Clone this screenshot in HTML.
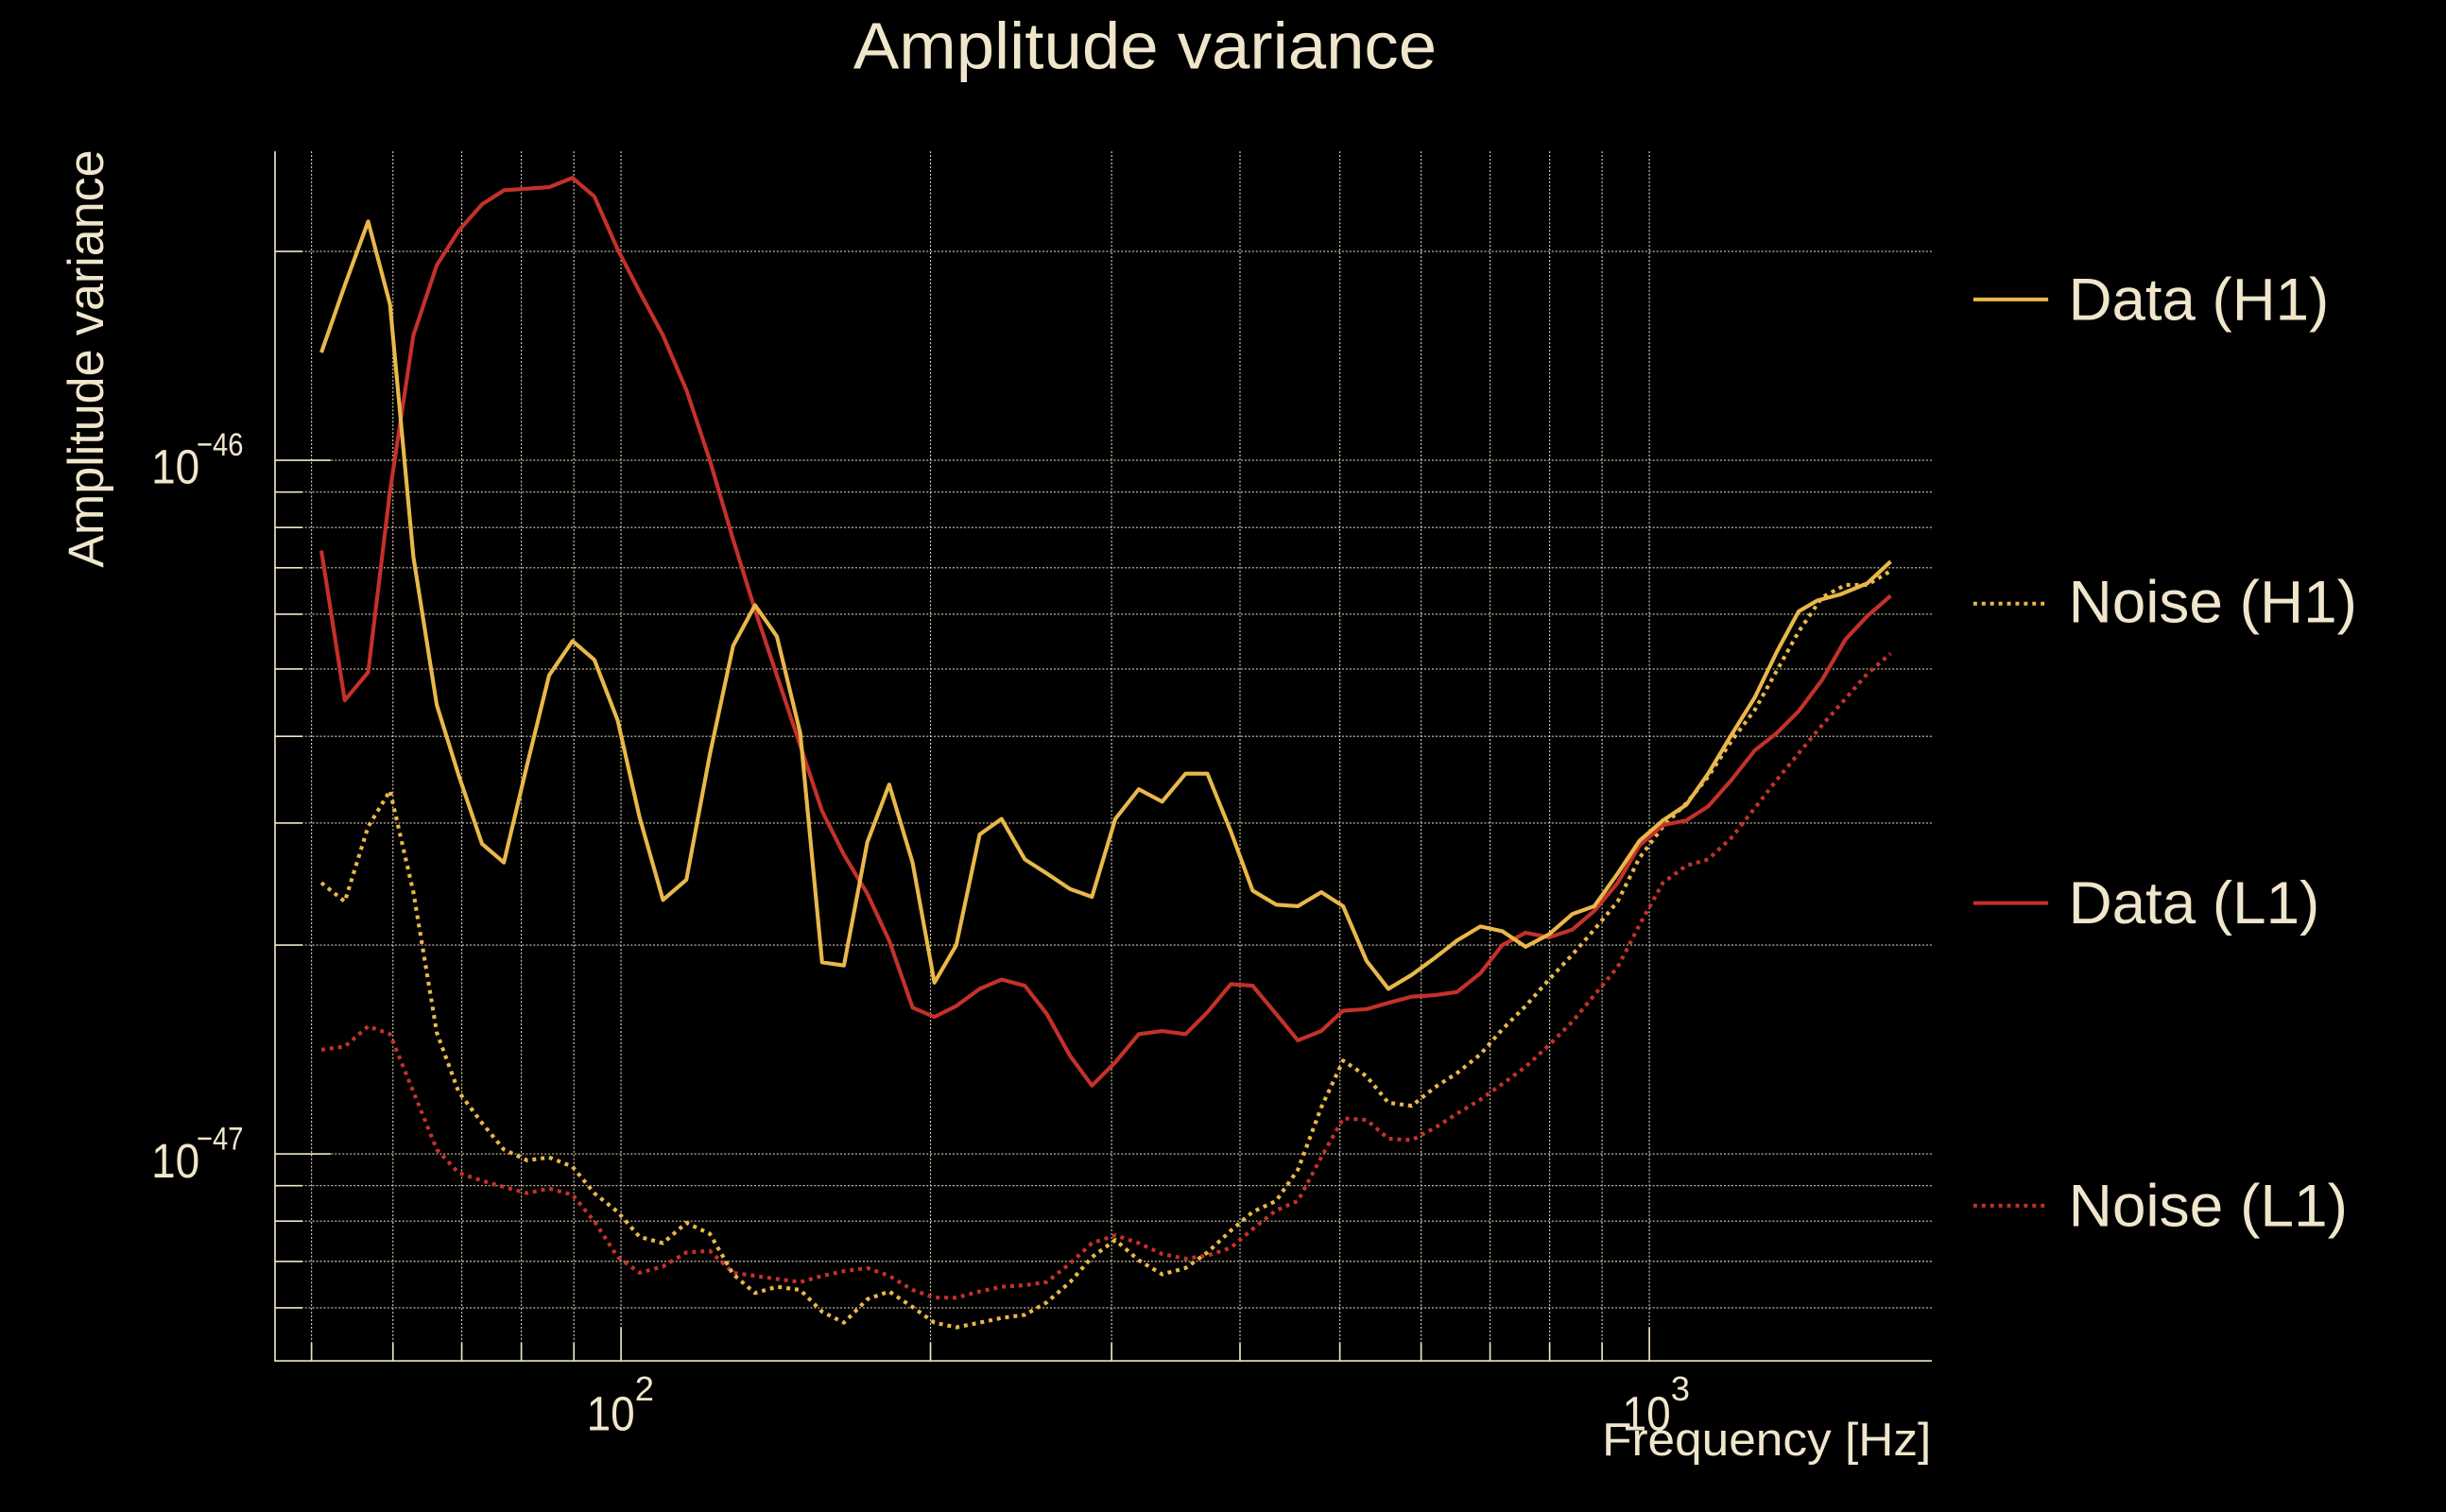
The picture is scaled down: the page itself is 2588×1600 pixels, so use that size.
<!DOCTYPE html>
<html><head><meta charset="utf-8"><style>html,body{margin:0;padding:0;background:#000;width:2588px;height:1600px;overflow:hidden}svg{display:block}</style></head>
<body>
<svg width="2588" height="1600" viewBox="0 0 1568 969.4" xmlns="http://www.w3.org/2000/svg">
<rect x="0" y="0" width="1568" height="969.4" fill="#000"/>
<g stroke="#efe4c8" stroke-width="0.7" stroke-dasharray="1.2,1.2" opacity="0.9">
<line x1="199.7" y1="97" x2="199.7" y2="872.5"/><line x1="251.9" y1="97" x2="251.9" y2="872.5"/><line x1="296" y1="97" x2="296" y2="872.5"/><line x1="334.2" y1="97" x2="334.2" y2="872.5"/><line x1="367.9" y1="97" x2="367.9" y2="872.5"/><line x1="398.1" y1="97" x2="398.1" y2="872.5"/><line x1="596.5" y1="97" x2="596.5" y2="872.5"/><line x1="712.6" y1="97" x2="712.6" y2="872.5"/><line x1="794.9" y1="97" x2="794.9" y2="872.5"/><line x1="858.9" y1="97" x2="858.9" y2="872.5"/><line x1="911" y1="97" x2="911" y2="872.5"/><line x1="955.2" y1="97" x2="955.2" y2="872.5"/><line x1="993.4" y1="97" x2="993.4" y2="872.5"/><line x1="1027" y1="97" x2="1027" y2="872.5"/><line x1="1057.3" y1="97" x2="1057.3" y2="872.5"/>
<line x1="176.3" y1="161.2" x2="1238.4" y2="161.2"/><line x1="176.3" y1="295.1" x2="1238.4" y2="295.1"/><line x1="176.3" y1="315.5" x2="1238.4" y2="315.5"/><line x1="176.3" y1="338.2" x2="1238.4" y2="338.2"/><line x1="176.3" y1="364" x2="1238.4" y2="364"/><line x1="176.3" y1="393.8" x2="1238.4" y2="393.8"/><line x1="176.3" y1="428.9" x2="1238.4" y2="428.9"/><line x1="176.3" y1="472.1" x2="1238.4" y2="472.1"/><line x1="176.3" y1="527.7" x2="1238.4" y2="527.7"/><line x1="176.3" y1="605.9" x2="1238.4" y2="605.9"/><line x1="176.3" y1="739.8" x2="1238.4" y2="739.8"/><line x1="176.3" y1="760.2" x2="1238.4" y2="760.2"/><line x1="176.3" y1="782.9" x2="1238.4" y2="782.9"/><line x1="176.3" y1="808.7" x2="1238.4" y2="808.7"/><line x1="176.3" y1="838.5" x2="1238.4" y2="838.5"/>
</g>
<g stroke="#efe4c8" stroke-width="1" fill="none">
<polyline points="176.3,97 176.3,872.5 1238.4,872.5"/>
<line x1="176.3" y1="295.1" x2="212" y2="295.1"/><line x1="176.3" y1="739.8" x2="212" y2="739.8"/>
<line x1="176.3" y1="161.2" x2="194" y2="161.2"/><line x1="176.3" y1="315.5" x2="194" y2="315.5"/><line x1="176.3" y1="338.2" x2="194" y2="338.2"/><line x1="176.3" y1="364" x2="194" y2="364"/><line x1="176.3" y1="393.8" x2="194" y2="393.8"/><line x1="176.3" y1="428.9" x2="194" y2="428.9"/><line x1="176.3" y1="472.1" x2="194" y2="472.1"/><line x1="176.3" y1="527.7" x2="194" y2="527.7"/><line x1="176.3" y1="605.9" x2="194" y2="605.9"/><line x1="176.3" y1="760.2" x2="194" y2="760.2"/><line x1="176.3" y1="782.9" x2="194" y2="782.9"/><line x1="176.3" y1="808.7" x2="194" y2="808.7"/><line x1="176.3" y1="838.5" x2="194" y2="838.5"/>
<line x1="398.1" y1="872.5" x2="398.1" y2="851"/><line x1="1057.3" y1="872.5" x2="1057.3" y2="851"/>
<line x1="199.7" y1="872.5" x2="199.7" y2="861"/><line x1="251.9" y1="872.5" x2="251.9" y2="861"/><line x1="296" y1="872.5" x2="296" y2="861"/><line x1="334.2" y1="872.5" x2="334.2" y2="861"/><line x1="367.9" y1="872.5" x2="367.9" y2="861"/><line x1="596.5" y1="872.5" x2="596.5" y2="861"/><line x1="712.6" y1="872.5" x2="712.6" y2="861"/><line x1="794.9" y1="872.5" x2="794.9" y2="861"/><line x1="858.9" y1="872.5" x2="858.9" y2="861"/><line x1="911" y1="872.5" x2="911" y2="861"/><line x1="955.2" y1="872.5" x2="955.2" y2="861"/><line x1="993.4" y1="872.5" x2="993.4" y2="861"/><line x1="1027" y1="872.5" x2="1027" y2="861"/>
</g>
<g fill="none" stroke-width="2.5" stroke-linejoin="round">
<polyline stroke="#c4312a" stroke-dasharray="2.4,3" points="206,673 221,671 236,658 250,663 265,700 280,737 294,752 309,757 323,761 338,765 352,762 367,766 381,783 396,806 410,816 425,812 440,803 455,802 470,816 484,818 498,820 513,822 527,818 541,815 556,813 570,818 585,827 599,832 613,832 628,828 642,825 657,824 671,822 686,810 700,797 715,792 730,797 745,804 760,807 774,805 789,800 803,788 818,776 832,770 847,742 861,717 876,718 890,730 905,731 920,723 934,714 949,705 963,695 978,684 993,670 1008,655 1022,638 1037,620 1051,593 1066,566 1081,555 1095,551 1110,537 1125,518 1139,500 1153,483 1168,465 1183,448 1197,432 1212,419"/>
<polyline stroke="#e9b84a" stroke-dasharray="2.4,3" points="206,566 221,578 236,530 250,507 265,572 280,662 294,700 309,720 323,737 338,744 352,742 367,748 381,765 396,777 410,793 425,797 440,784 455,791 470,817 484,829 498,825 513,827 527,841 541,848 556,833 570,828 585,838 599,848 613,851 628,848 642,845 657,843 671,835 686,822 700,806 715,795 730,808 745,817 760,813 774,803 789,789 803,777 818,770 832,750 847,710 861,680 876,690 890,707 905,709 920,697 934,688 949,676 963,660 978,645 993,628 1008,612 1022,596 1037,578 1051,550 1066,530 1081,515 1095,498 1110,475 1125,455 1139,430 1153,405 1168,383 1183,375 1197,375 1212,366"/>
<polyline stroke="#c4312a" points="206,353 221,449 236,431 250,315 265,215 280,170 294,148 309,131 323,122 338,121 352,120 367,114 381,126 396,160 410,187 425,215 440,250 455,295 470,346 484,391 498,433 513,478 527,520 541,548 556,573 570,603 585,646 599,652 613,645 628,634 642,628 657,632 671,650 686,677 700,696 715,681 730,663 745,661 760,663 774,649 789,631 803,632 818,650 832,667 847,661 861,648 876,647 890,643 905,639 920,638 934,636 949,624 963,606 978,598 993,601 1008,596 1022,584 1037,566 1051,542 1066,529 1081,526 1095,517 1110,500 1125,481 1139,470 1153,456 1168,436 1183,410 1197,395 1212,382"/>
<polyline stroke="#e9b84a" points="206,226 221,183 236,142 250,195 265,357 280,452 294,497 309,541 323,553 338,490 352,433 367,411 381,423 396,462 410,524 425,577 440,564 455,484 470,414 484,388 498,408 513,470 527,617 541,619 556,540 570,503 585,553 599,630 613,606 628,535 642,525 657,551 671,560 686,570 700,575 715,525 730,506 745,514 760,496 774,496 789,533 803,571 818,580 832,581 847,572 861,581 876,616 890,634 905,625 920,614 934,603 949,594 963,597 978,607 993,599 1008,586 1022,581 1037,560 1051,539 1066,526 1081,516 1095,496 1110,471 1125,447 1139,418 1153,392 1165,385 1180,381 1197,374 1212,360"/>
</g>
<g stroke-width="2.4">
<line x1="1265" y1="192" x2="1313" y2="192" stroke="#e9b84a"/>
<line x1="1265" y1="387" x2="1313" y2="387" stroke="#e9b84a" stroke-dasharray="2.4,3"/>
<line x1="1265" y1="579" x2="1313" y2="579" stroke="#c4312a"/>
<line x1="1265" y1="773" x2="1313" y2="773" stroke="#c4312a" stroke-dasharray="2.4,3"/>
</g>
<g fill="#f0e6cc" font-family="'Liberation Sans', sans-serif">
<text x="547" y="44" font-size="42" textLength="374" lengthAdjust="spacingAndGlyphs">Amplitude variance</text>
<text x="1326" y="205" font-size="38" textLength="167" lengthAdjust="spacingAndGlyphs">Data (H1)</text>
<text x="1326" y="399" font-size="38" textLength="185" lengthAdjust="spacingAndGlyphs">Noise (H1)</text>
<text x="1326" y="592" font-size="38" textLength="161" lengthAdjust="spacingAndGlyphs">Data (L1)</text>
<text x="1326" y="786" font-size="38" textLength="179" lengthAdjust="spacingAndGlyphs">Noise (L1)</text>
<text x="1027" y="933" font-size="30" textLength="211" lengthAdjust="spacingAndGlyphs">Frequency [Hz]</text>
<text x="376" y="917" font-size="31" textLength="31" lengthAdjust="spacingAndGlyphs">10</text><text x="407" y="898" font-size="22">2</text>
<text x="1040" y="917" font-size="31" textLength="31" lengthAdjust="spacingAndGlyphs">10</text><text x="1071" y="898" font-size="22">3</text>
<text x="97" y="310" font-size="31" textLength="31" lengthAdjust="spacingAndGlyphs">10</text><text x="126" y="292" font-size="21" textLength="30" lengthAdjust="spacingAndGlyphs">−46</text>
<text x="97" y="755" font-size="31" textLength="31" lengthAdjust="spacingAndGlyphs">10</text><text x="126" y="737" font-size="21" textLength="30" lengthAdjust="spacingAndGlyphs">−47</text>
<text transform="translate(66,230) rotate(-90)" text-anchor="middle" font-size="32" textLength="268" lengthAdjust="spacingAndGlyphs">Amplitude variance</text>
</g>
</svg>
</body></html>
